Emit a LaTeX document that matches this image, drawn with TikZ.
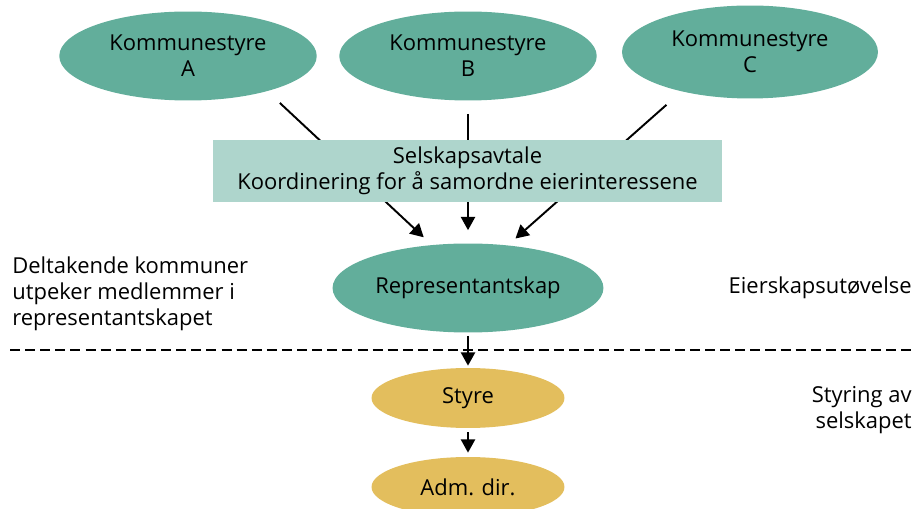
\documentclass[tikz,border=0pt]{standalone}
\usepackage{fontspec}
\setmainfont{Open Sans}
\usetikzlibrary{shapes.geometric, arrows.meta}
\definecolor{kommunegronn}{HTML}{62AE9B}
\definecolor{avtalegronn}{HTML}{AED5CC}
\definecolor{styregul}{HTML}{E3BE5D}

\begin{document}
\begin{tikzpicture}[x=0.02cm, y=-0.02cm,
    tekst/.style={font=\fontsize{12.5}{14.8}\selectfont},
    kommune/.style={tekst, ellipse, fill=kommunegronn, inner sep=0pt, align=center, minimum width=5.15cm, minimum height=1.78cm},
    selskap/.style={tekst, ellipse, fill=styregul, inner sep=0pt, minimum width=3.86cm, minimum height=1.2cm},
    pil/.style={-{Triangle[length=7.5pt, width=8pt]}, line width=1.1pt}]
    \useasboundingbox (0,0) rectangle (913,509);

    % Kommunestyrer
    \node[kommune] (kA) at (188,56) {Kommunestyre\\A};
    \node[kommune] (kB) at (468,56) {Kommunestyre\\B};
    \node[kommune, minimum width=5.12cm, minimum height=1.86cm] (kC) at (750,52) {Kommunestyre\\C};

    % Representantskap
    \node[kommune, minimum width=5.42cm] (rep) at (468,288) {Representantskap};

    % Styre og daglig leder
    \node[selskap] (styre) at (468,398) {Styre};
    \node[selskap] (adm) at (468,487) {Adm. dir.};

    % Piler fra kommunene (bak avtalen)
    \draw[pil, shorten <=0.34cm, shorten >=0.22cm] (kA.-24) -- (rep.130);
    \draw[pil, shorten <=0.26cm, shorten >=0.26cm] (kB.south) -- (rep.north);
    \draw[pil, shorten <=0.4cm, shorten >=0.2cm] (kC.-150) -- (rep.47);

    % Selskapsavtale
    \node[tekst, fill=avtalegronn, align=center, minimum width=10.18cm, minimum height=1.24cm] (avtale) at (467.5,171) {Selskapsavtale\\Koordinering for å samordne eierinteressene};

    \draw[pil, shorten <=0.06cm, shorten >=0.04cm] (rep.south) -- (styre.north);
    \draw[pil, shorten <=0.08cm, shorten >=0.08cm] (styre.south) -- (adm.north);

    % Skillelinje
    \draw[line width=1.1pt, dash pattern=on 5.7pt off 2.9pt] (10,350) -- (913,350);

    % Forklaringer
    \node[tekst, anchor=west, align=left, inner xsep=0pt] (deltak) at (12,294) {Deltakende kommuner\\utpeker medlemmer i\\representantskapet};
    \node[tekst, anchor=east, inner xsep=0pt] (eier) at (912,288) {Eierskapsutøvelse};
    \node[tekst, anchor=east, align=right, inner xsep=0pt] (styring) at (912,410) {Styring av\\selskapet};
\end{tikzpicture}
\end{document}
